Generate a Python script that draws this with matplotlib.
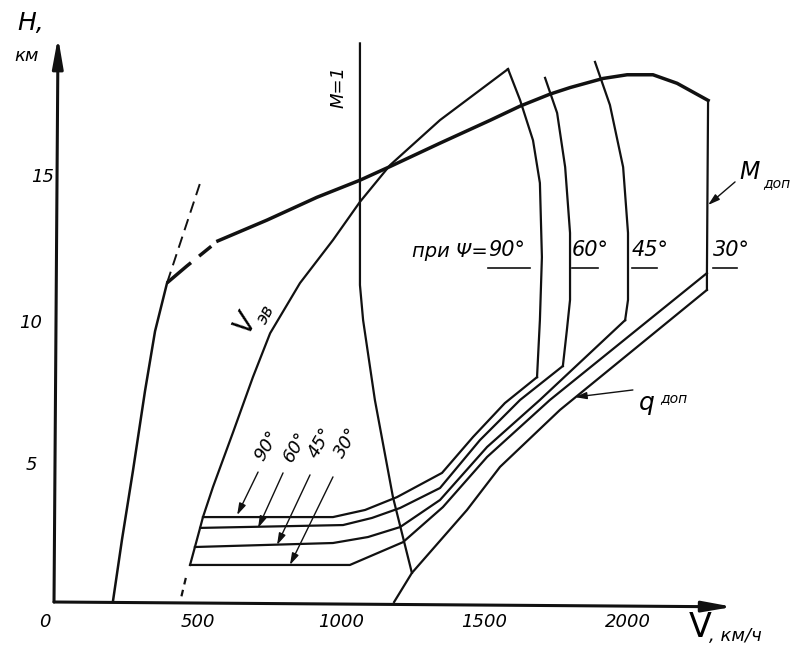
import matplotlib
matplotlib.use('Agg')
import matplotlib.pyplot as plt

# --- data: V in km/h, H in km ---

# left boundary (minimum speed) and its dashed extension
vmin_V = [205, 237, 275, 317, 352, 394]
vmin_H = [0.0, 2.2, 4.6, 7.4, 9.5, 11.2]
vmin_ext_V = [394, 509]
vmin_ext_H = [11.2, 14.7]

# ceiling curve (thick)
ceil_V = [394, 463, 571, 742, 916, 1066, 1171, 1345, 1519, 1624, 1728, 1798, 1913, 1997, 2087, 2171, 2279]
ceil_H = [11.2, 11.79, 12.67, 13.4, 14.2, 14.8, 15.28, 16.1, 16.9, 17.4, 17.82, 18.05, 18.37, 18.5, 18.5, 18.2, 17.6]

# equivalent speed line V_эв
veq_V = [474, 491, 509, 519, 554, 624, 693, 753, 857, 972, 1066, 1171, 1345, 1484, 1582]
veq_H = [1.3, 1.93, 2.6, 2.98, 4.04, 5.96, 7.89, 9.43, 11.19, 12.7, 14.04, 15.33, 16.91, 17.96, 18.7]
veq_dash_V = [444, 463]
veq_dash_H = [0.2, 1.0]

# M = 1
m1_V = [1066, 1066, 1077, 1118, 1181, 1247]
m1_H = [19.6, 11.12, 9.89, 7.09, 3.68, 1.02]

# M limits for each sweep angle psi
psi = ['90°', '60°', '45°', '30°']
mlim_V = [
    [1582, 1624, 1669, 1693, 1700, 1693, 1683],
    [1711, 1753, 1781, 1798, 1798, 1787, 1773],
    [1885, 1937, 1983, 2000, 2000, 1990],
    [2279, 2275, 2275],
]
mlim_H = [
    [18.7, 17.61, 16.2, 14.7, 12.1, 9.89, 7.89],
    [18.39, 17.16, 15.26, 12.95, 10.6, 9.54, 8.28],
    [18.95, 17.44, 15.26, 12.95, 10.6, 9.89],
    [17.6, 11.54, 10.95],
]

# q limits for each sweep angle psi
qlim_V = [
    [519, 972, 1084, 1195, 1352, 1460, 1571, 1683],
    [509, 1007, 1108, 1206, 1345, 1484, 1624, 1773],
    [491, 972, 1094, 1206, 1345, 1509, 1693, 1990],
    [474, 1031, 1216, 1355, 1509, 1728, 2275],
]
qlim_H = [
    [2.98, 2.98, 3.23, 3.68, 4.53, 5.79, 6.98, 7.89],
    [2.6, 2.7, 2.95, 3.3, 4.0, 5.68, 7.09, 8.28],
    [1.93, 2.07, 2.28, 2.63, 3.58, 5.44, 7.09, 9.89],
    [1.3, 1.3, 2.1, 3.33, 5.09, 7.09, 11.54],
]

# q_доп
qdop_V = [1185, 1247, 1439, 1554, 1763, 2275]
qdop_H = [0.0, 1.02, 3.23, 4.74, 6.74, 10.95]

x_ticks = [0, 500, 1000, 1500, 2000]
y_ticks = [5, 10, 15]

plt.rcParams['font.family'] = 'DejaVu Sans'
plt.rcParams['font.style'] = 'italic'

fig = plt.figure(figsize=(7.93, 6.51), dpi=100)
ax = fig.add_axes([0, 0, 1, 1])
ax.set_xlim(-188.2, 2574.9)
ax.set_ylim(-1.719, 21.123)
ax.axis('off')

k = '#111111'
lw = 1.6

# axes with arrows
ax.annotate('', xy=(2366, -0.17), xytext=(0, 0),
            arrowprops=dict(arrowstyle='-|>,head_length=0.9,head_width=0.16', lw=2.2,
                            color=k, mutation_scale=20, shrinkA=0, shrinkB=0))
ax.annotate('', xy=(14, 19.82), xytext=(0, 0),
            arrowprops=dict(arrowstyle='-|>,head_length=0.9,head_width=0.16', lw=2.2,
                            color=k, mutation_scale=20, shrinkA=0, shrinkB=0))

ax.plot(vmin_V, vmin_H, color=k, lw=1.8, solid_capstyle='round')
ax.plot(vmin_ext_V, vmin_ext_H, color=k, lw=1.4, linestyle=(0, (6, 3.5)))

# ceiling: broken near the kink, solid afterwards
ax.plot(ceil_V[:3], ceil_H[:3], color=k, lw=2.5, linestyle=(0, (9, 3, 4.5, 30)))
ax.plot(ceil_V[2:], ceil_H[2:], color=k, lw=2.5, solid_joinstyle='round')

ax.plot(veq_V, veq_H, color=k, lw=lw)
ax.plot(veq_dash_V, veq_dash_H, color=k, lw=lw, linestyle=(0, (3, 2.5)))

ax.plot(m1_V, m1_H, color=k, lw=lw)

for i in range(len(psi)):
    ax.plot(mlim_V[i], mlim_H[i], color=k, lw=lw)
    ax.plot(qlim_V[i], qlim_H[i], color=k, lw=lw)
ax.plot(qdop_V, qdop_H, color=k, lw=lw)

# tick labels
fs = 13
for v in x_ticks:
    ax.text(v if v else -31, -0.7, str(v), ha='center', va='center', fontsize=fs)
for h in y_ticks:
    ax.text(-80 if h < 15 else -38, h - 0.2 if h < 15 else h - 0.1, str(h),
            ha='center', va='center', fontsize=fs)

ax.text(-80, 20.3, 'H,', ha='center', va='center', fontsize=18)
ax.text(-94, 19.15, 'км', ha='center', va='center', fontsize=13)
ax.text(2251, -0.88, 'V', ha='center', va='center', fontsize=24, fontstyle='normal')
ax.text(2282, -1.2, ', км/ч', ha='left', va='center', fontsize=13)

ax.text(990, 18.07, 'M=1', ha='center', va='center', fontsize=13, rotation=90)

ax.text(665, 9.82, 'V', ha='center', va='center', fontsize=20, rotation=62)
ax.text(740, 10.1, 'эв', ha='center', va='center', fontsize=12, rotation=62)

# sweep angle labels at the M limits
ax.text(1512, 12.3, 'при Ψ=', ha='right', va='center', fontsize=14)
lab_V = [1512, 1805, 2014, 2296]
lab_W = [147, 90, 87, 84]
for i in range(len(psi)):
    ax.text(lab_V[i], 12.35, psi[i], ha='left', va='center', fontsize=15)
    ax.plot([lab_V[i], lab_V[i] + lab_W[i]], [11.72, 11.72], color=k, lw=1.2)

ax.text(2425, 15.09, 'M', ha='center', va='center', fontsize=17)
ax.text(2520, 14.7, 'доп', ha='center', va='center', fontsize=10)
ax.annotate('', xy=(2279, 13.93), xytext=(2373, 14.74),
            arrowprops=dict(arrowstyle='-|>,head_length=0.5,head_width=0.15', lw=1.0,
                            color=k, mutation_scale=14, shrinkA=0, shrinkB=0))

ax.text(2066, 7.0, 'q', ha='center', va='center', fontsize=18)
ax.text(2160, 7.16, 'доп', ha='center', va='center', fontsize=10)
ax.annotate('', xy=(1815, 7.19), xytext=(2017, 7.44),
            arrowprops=dict(arrowstyle='-|>,head_length=0.5,head_width=0.15', lw=1.0,
                            color=k, mutation_scale=14, shrinkA=0, shrinkB=0))

# sweep angle labels at the q limits with leaders
deg_V = [742, 840, 927, 1021]
deg_H = [5.5, 5.44, 5.58, 5.58]
lead_from_V = [711, 798, 892, 972]
lead_from_H = [4.56, 4.53, 4.46, 4.39]
lead_to_V = [638, 711, 777, 822]
lead_to_H = [3.05, 2.6, 2.0, 1.3]
for i in range(len(psi)):
    ax.text(deg_V[i], deg_H[i], psi[i], ha='center', va='center', fontsize=13, rotation=60)
    ax.annotate('', xy=(lead_to_V[i], lead_to_H[i]), xytext=(lead_from_V[i], lead_from_H[i]),
                arrowprops=dict(arrowstyle='-|>,head_length=0.5,head_width=0.15', lw=1.0,
                                color=k, mutation_scale=14, shrinkA=0, shrinkB=0))

fig.savefig('out.png', dpi=100)
